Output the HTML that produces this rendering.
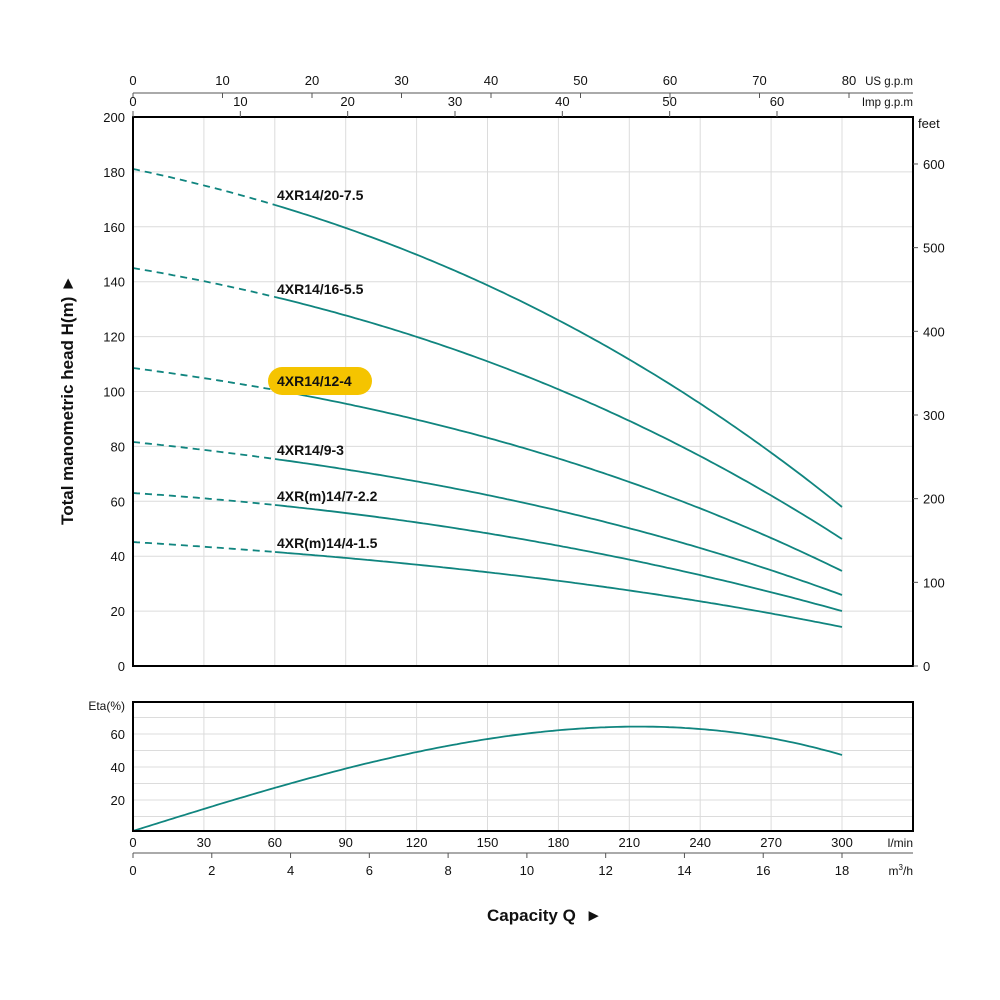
<!DOCTYPE html>
<html><head><meta charset="utf-8"><style>
html,body{margin:0;padding:0;background:#fff}
svg{display:block;font-family:"Liberation Sans",Arial,sans-serif}
</style></head><body>
<svg id="s" width="1000" height="1000" viewBox="0 0 1000 1000" xmlns="http://www.w3.org/2000/svg">
<g id="grid" stroke="#dcdcdc" stroke-width="1"></g>
<g id="curves" fill="none" stroke="#10857f" stroke-width="1.8"></g>
<rect x="133" y="117" width="780" height="549" fill="none" stroke="#000" stroke-width="2"/>
<rect x="133" y="702" width="780" height="129" fill="none" stroke="#000" stroke-width="2"/>
<g id="txt" font-size="13" fill="#111"></g>
<g stroke="#555" stroke-width="1">
<line x1="133" y1="93" x2="913" y2="93"/>
<line x1="133" y1="853" x2="913" y2="853"/>
</g>
<rect x="268" y="367" width="104" height="28" rx="14" fill="#f5c400"/>
<g font-size="14" font-weight="bold" fill="#111">
<text x="277" y="200">4XR14/20-7.5</text>
<text x="277" y="294">4XR14/16-5.5</text>
<text x="277" y="386">4XR14/12-4</text>
<text x="277" y="455">4XR14/9-3</text>
<text x="277" y="501">4XR(m)14/7-2.2</text>
<text x="277" y="548">4XR(m)14/4-1.5</text>
</g>
<text transform="translate(73,400) rotate(-90)" text-anchor="middle" font-size="17" font-weight="bold" fill="#111">Total manometric head H(m) ►</text>
<text x="487" y="921" font-size="17" font-weight="bold" fill="#111">Capacity Q &#160;►</text>
</svg>
<script>
var NS="http://www.w3.org/2000/svg";
function el(p,t,a,txt){var e=document.createElementNS(NS,t);for(var k in a)e.setAttribute(k,a[k]);if(txt!=null)e.textContent=txt;document.getElementById(p).appendChild(e);return e;}
var lx=function(v){return 133+v*709/300;};
for(var i=1;i<=10;i++){var x=lx(i*30);el("grid","line",{x1:x,y1:117,x2:x,y2:666});el("grid","line",{x1:x,y1:702,x2:x,y2:831});}
for(var v=20;v<200;v+=20){var y=666-v*2.745;el("grid","line",{x1:133,y1:y,x2:913,y2:y});}
for(var v=10;v<=70;v+=10){var y=833-v*1.65;el("grid","line",{x1:133,y1:y,x2:913,y2:y});}
for(var v=0;v<=200;v+=20){el("txt","text",{x:125,y:666-v*2.745+5,"text-anchor":"end"},v);}
for(var f=0;f<=600;f+=100){var y=666-f*0.8367;el("txt","line",{x1:913,y1:y,x2:918,y2:y,stroke:"#555"});el("txt","text",{x:923,y:y+5},f);}
el("txt","text",{x:918,y:128},"feet");
for(var v=20;v<=60;v+=20){el("txt","text",{x:125,y:833-v*1.65+5,"text-anchor":"end"},v);}
el("txt","text",{x:125,y:710,"text-anchor":"end","font-size":"12"},"Eta(%)");
for(var i=0;i<=10;i++){el("txt","text",{x:lx(i*30),y:847,"text-anchor":"middle"},i*30);}
el("txt","text",{x:913,y:847,"text-anchor":"end","font-size":"12"},"l/min");
for(var i=0;i<=9;i++){var x=133+i*2*709/18;el("txt","line",{x1:x,y1:853,x2:x,y2:858,stroke:"#555"});el("txt","text",{x:x,y:875,"text-anchor":"middle"},i*2);}
var m=el("txt","text",{x:913,y:875,"text-anchor":"end","font-size":"12"},"");m.innerHTML='m<tspan font-size="8" dy="-5">3</tspan><tspan dy="5">/h</tspan>';
for(var i=0;i<=8;i++){var x=133+i*10*716/80;el("txt","line",{x1:x,y1:93,x2:x,y2:98,stroke:"#555"});el("txt","text",{x:x,y:85,"text-anchor":"middle"},i*10);}
el("txt","text",{x:913,y:85,"text-anchor":"end","font-size":"11.5"},"US g.p.m");
for(var i=0;i<=6;i++){var x=133+i*10*644/60;el("txt","line",{x1:x,y1:111,x2:x,y2:117,stroke:"#555"});el("txt","text",{x:x,y:106,"text-anchor":"middle"},i*10);}
el("txt","text",{x:913,y:106,"text-anchor":"end","font-size":"11.5"},"Imp g.p.m");
function lag(xs,ys,x){var s=0;for(var i=0;i<xs.length;i++){var t=ys[i];for(var j=0;j<xs.length;j++)if(j!=i)t*=(x-xs[j])/(xs[i]-xs[j]);s+=t;}return s;}
function poly(xs,ys,a,b){var d="",x=a;while(true){var xx=Math.min(x,b);d+=(d?" L":"M")+xx.toFixed(1)+","+lag(xs,ys,xx).toFixed(1);if(xx>=b)break;x+=4;}return d;}
var X=[133,275,560,842];
var C=[[169,205,321,507],[268,297,390,539],[368,390,459,571],[442,459,511,595],[493,505,546,611],[542,552,581,627]];
C.forEach(function(c){
 el("curves","path",{d:poly(X,c,133,275),"stroke-dasharray":"7,5"});
 el("curves","path",{d:poly(X,c,275,842)});
});
el("curves","path",{d:poly([133,417,700,842],[831,752,729,755],133,842)});
</script>
</body></html>
